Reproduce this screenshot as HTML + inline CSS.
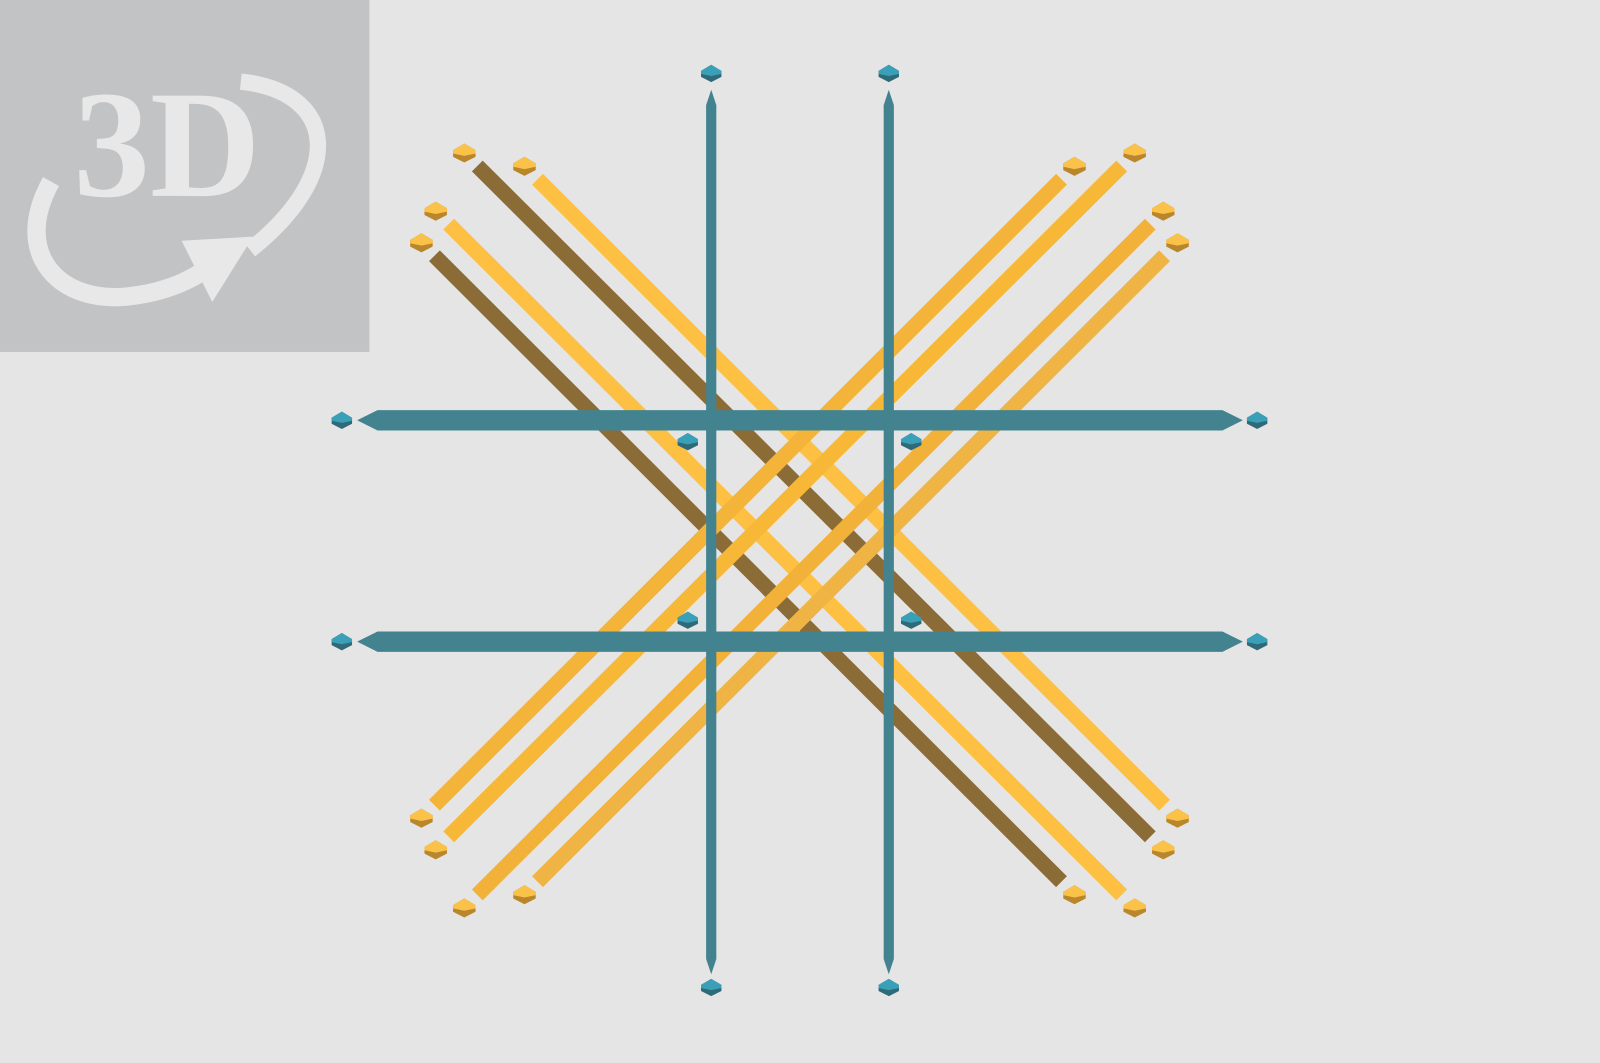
<!DOCTYPE html>
<html><head><meta charset="utf-8"><style>
html,body{margin:0;padding:0;background:#e5e5e5;width:1600px;height:1063px;overflow:hidden}
svg{display:block}
</style></head><body>
<svg id="scene" width="1600" height="1063" viewBox="0 0 1568 1042" preserveAspectRatio="none" xmlns="http://www.w3.org/2000/svg">
<rect x="0" y="0" width="1568" height="1042" fill="#e5e5e5"/>
<g>
<rect x="0" y="0" width="362" height="345" fill="#c2c3c5"/>
<text x="72" y="192" font-family="Liberation Serif, serif" font-weight="bold" font-size="150" fill="#e8e8e8">3D</text>
<path d="M236,80 C330,90 340,170 245,245" stroke="#e8e8e8" stroke-width="16" fill="none"/>
<path d="M50,178 C10,250 60,300 130,290 C170,285 195,270 215,255" stroke="#e8e8e8" stroke-width="18" fill="none"/>
<polygon points="178,236 248,232 208,296" fill="#e8e8e8"/>
</g>
<g id="diag"></g>
<g id="teal"></g>
<g id="caps"></g>
</svg>
<script>
const diagStarts = [[455,150],[514,163],[427,207],[413,238],[1053,163],[1112,150],[1140,207],[1154,238]];
const diagEnds = [[1140,833],[1154,802],[1112,890],[1053,877],[413,802],[427,833],[455,890],[514,877]];
const diagColors = ["#8c6c36","#fdc042","#fdc042","#8c6c36","#f4b43a","#f7b838","#f2b23a","#efb444"];
const vertX = [697,871];
const vertRange = [88,955];
const horizY = [412,629];
const horizRange = [350,1218];
const vertCapY = [72,968];
const horizCapX = [335,1232];
const innerNodes = [[674,433],[893,433],[674,608],[893,608]];
const NS="http://www.w3.org/2000/svg";
function mk(t,a,p){const e=document.createElementNS(NS,t);for(const k in a)e.setAttribute(k,a[k]);p.appendChild(e);return e;}
function hex(cx,cy,r,top,bot,p){
  const g=mk('g',{},p);
  
  
  const h=r*0.85;
  mk('polygon',{points:`${cx-r},${cy-h*0.3} ${cx},${cy-h} ${cx+r},${cy-h*0.3} ${cx+r},${cy+h*0.4} ${cx},${cy+h} ${cx-r},${cy+h*0.4}`,fill:bot},g);
  mk('polygon',{points:`${cx-r},${cy-h*0.3} ${cx},${cy-h} ${cx+r},${cy-h*0.3} ${cx+r},${cy+h*0.05} ${cx},${cy+h*0.3} ${cx-r},${cy+h*0.05}`,fill:top},g);
}
const dg=document.getElementById('diag');
diagStarts.forEach((s,i)=>{
  const e=diagEnds[i];
  const dx=e[0]-s[0],dy=e[1]-s[1],L=Math.hypot(dx,dy),ux=dx/L,uy=dy/L;
  const l=mk('line',{x1:s[0]+ux*18,y1:s[1]+uy*18,x2:e[0]-ux*18,y2:e[1]-uy*18,stroke:diagColors[i],'stroke-width':15},dg);
  
  
});
const tg=document.getElementById('teal');
horizY.forEach((y,i)=>{
  const p=mk('polygon',{points:`${horizRange[0]},${y} ${horizRange[0]+20},${y-10} ${horizRange[1]-20},${y-10} ${horizRange[1]},${y} ${horizRange[1]-20},${y+10} ${horizRange[0]+20},${y+10}`,fill:'#438390'},tg);
  
  
});
vertX.forEach((x,i)=>{
  const p=mk('polygon',{points:`${x},${vertRange[0]} ${x+5},${vertRange[0]+15} ${x+5},${vertRange[1]-15} ${x},${vertRange[1]} ${x-5},${vertRange[1]-15} ${x-5},${vertRange[0]+15}`,fill:'#438390'},tg);
  
  
});
const cg=document.getElementById('caps');
vertX.forEach(x=>vertCapY.forEach(y=>hex(x,y,10,'#3aa0b8','#2f6a78',cg)));
horizY.forEach(y=>horizCapX.forEach(x=>hex(x,y,10,'#3aa0b8','#2f6a78',cg)));
innerNodes.forEach(n=>hex(n[0],n[1],10,'#3aa0b8','#2f6a78',cg));
diagStarts.concat(diagEnds).forEach(n=>hex(n[0],n[1],11,'#fbc24a','#b9862c',cg));
</script>
</body></html>
